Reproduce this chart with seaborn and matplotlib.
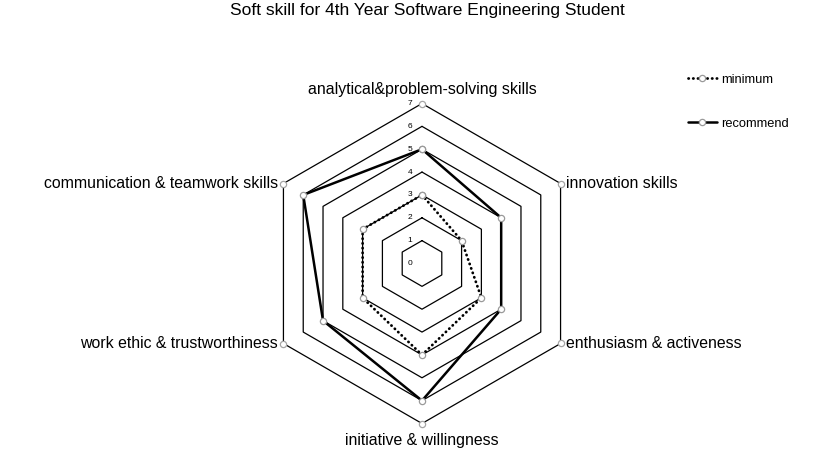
import numpy as np
import pandas as pd
import matplotlib
matplotlib.use("Agg")
import matplotlib.pyplot as plt
import seaborn as sns

# skills, clockwise from the top
skills = [
    "analytical&problem-solving skills",
    "innovation skills",
    "enthusiasm & activeness",
    "initiative & willingness",
    "work ethic & trustworthiness",
    "communication & teamwork skills",
]
minimum = [3, 2, 3, 4, 3, 3]
recommend = [5, 4, 4, 6, 5, 6]
levels = [0, 1, 2, 3, 4, 5, 6, 7]
r_max = 7

sns.set_theme(style="white")
plt.rcParams["font.family"] = ["Liberation Sans", "DejaVu Sans"]
plt.rcParams["text.color"] = "black"

angles = np.linspace(0, 2 * np.pi, len(skills), endpoint=False)
closed = np.append(angles, 2 * np.pi)

df = pd.DataFrame({
    "theta": np.concatenate([closed, closed]),
    "value": minimum + minimum[:1] + recommend + recommend[:1],
    "series": ["minimum"] * len(closed) + ["recommend"] * len(closed),
})

fig = plt.figure(figsize=(8.27, 4.5), dpi=100)
ax = fig.add_axes([262 / 827, 26.5 / 450, 320 / 827, 320 / 450], projection="polar")
ax.set_theta_zero_location("N")
ax.set_theta_direction(-1)
ax.set_ylim(0, r_max)
ax.grid(False)
ax.spines["polar"].set_visible(False)
ax.set_xticks([])
ax.set_yticks([])
ax.patch.set_alpha(0)

# hexagonal grid
for lv in levels[1:]:
    ax.plot(closed, [lv] * len(closed), color="black", lw=0.9, zorder=1)
ax.plot(angles, [r_max] * len(angles), ls="none", marker="o", ms=4.5,
        mfc="white", mec="#a6a6a6", mew=0.9, zorder=4, clip_on=False)

marker_kw = dict(marker="o", markersize=4.5, markerfacecolor="white",
                 markeredgecolor="#9a9a9a", markeredgewidth=0.9)
sub = df[df["series"] == "minimum"]
sns.lineplot(data=sub, x="theta", y="value", sort=False, estimator=None,
             color="black", lw=2.0, ls=(0, (0.1, 1.6)), dash_capstyle="round",
             label="minimum", ax=ax, zorder=3, **marker_kw)
sub = df[df["series"] == "recommend"]
sns.lineplot(data=sub, x="theta", y="value", sort=False, estimator=None,
             color="black", lw=1.8, label="recommend", ax=ax, zorder=3, **marker_kw)
ax.set_xlabel("")
ax.set_ylabel("")
ax.set_ylim(0, r_max)

# value labels along the top axis
for lv in levels:
    ax.annotate(str(lv), xy=(0, lv), xytext=(-7, 0), textcoords="offset points",
                ha="right", va="center", fontsize=6, color="black")

# category labels
aligns = ["center", "left", "left", "center", "right", "right"]
offsets = [(0, 5), (4, 0), (4, 0), (0, -7), (-4, 0), (-4, 0)]
vas = ["bottom", "center", "center", "top", "center", "center"]
for ang, name, ha, off, va in zip(angles, skills, aligns, offsets, vas):
    ax.annotate(name, xy=(ang, r_max), xytext=off, textcoords="offset points",
                ha=ha, va=va, fontsize=11.4, annotation_clip=False)

ax.legend_.remove()
handles, labels = ax.get_legend_handles_labels()
fig.legend(handles, labels, loc="upper left", bbox_to_anchor=(676 / 827, 1 - 62 / 450),
           frameon=False, fontsize=9.3, labelspacing=2.5, handlelength=2.3,
           handletextpad=0.3, numpoints=1)

fig.suptitle("Soft skill for 4th Year Software Engineering Student",
             x=427 / 827, y=1 - 3 / 450, va="top", fontsize=12.5)

fig.savefig("out.png", dpi=100)
